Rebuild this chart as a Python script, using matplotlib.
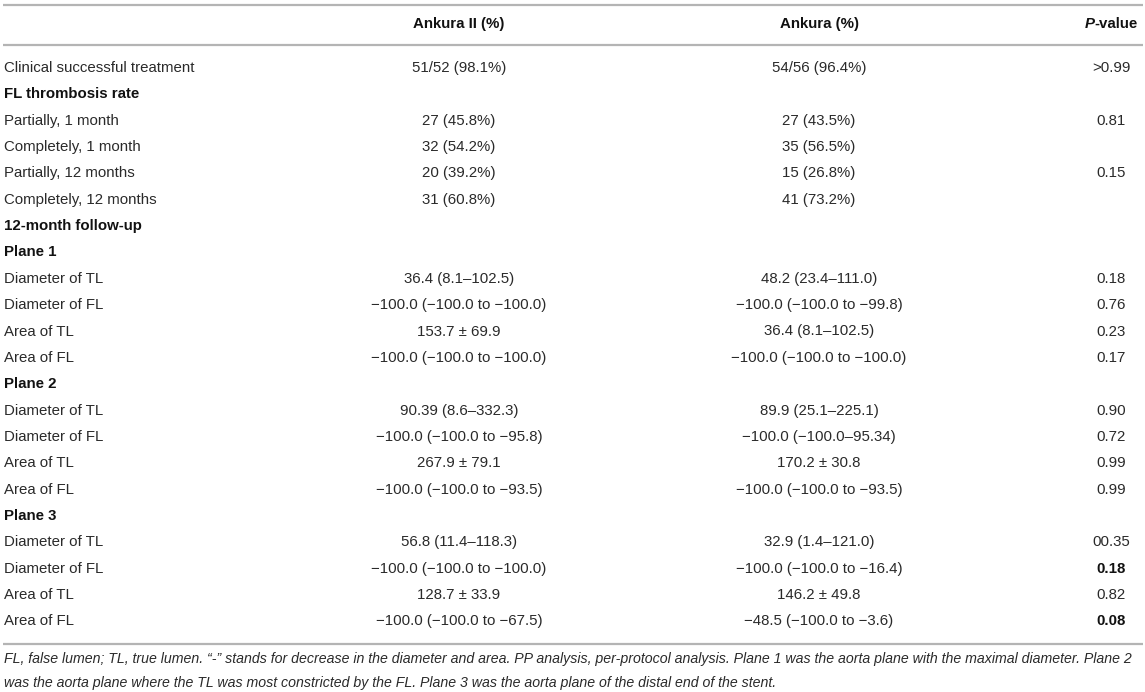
import matplotlib
matplotlib.use("Agg")
import matplotlib.pyplot as plt

W, H = 1145, 692
DPI = 100

headers = ["Ankura II (%)", "Ankura (%)", "P-value"]

row_labels = [
    "Clinical successful treatment",
    "FL thrombosis rate",
    "Partially, 1 month",
    "Completely, 1 month",
    "Partially, 12 months",
    "Completely, 12 months",
    "12-month follow-up",
    "Plane 1",
    "Diameter of TL",
    "Diameter of FL",
    "Area of TL",
    "Area of FL",
    "Plane 2",
    "Diameter of TL",
    "Diameter of FL",
    "Area of TL",
    "Area of FL",
    "Plane 3",
    "Diameter of TL",
    "Diameter of FL",
    "Area of TL",
    "Area of FL",
]
section_rows = {"FL thrombosis rate", "12-month follow-up", "Plane 1", "Plane 2", "Plane 3"}

ankura2 = [
    "51/52 (98.1%)", "", "27 (45.8%)", "32 (54.2%)", "20 (39.2%)", "31 (60.8%)", "", "",
    "36.4 (8.1\u2013102.5)", "\u2212100.0 (\u2212100.0 to \u2212100.0)", "153.7 \u00b1 69.9",
    "\u2212100.0 (\u2212100.0 to \u2212100.0)", "",
    "90.39 (8.6\u2013332.3)", "\u2212100.0 (\u2212100.0 to \u221295.8)", "267.9 \u00b1 79.1",
    "\u2212100.0 (\u2212100.0 to \u221293.5)", "",
    "56.8 (11.4\u2013118.3)", "\u2212100.0 (\u2212100.0 to \u2212100.0)", "128.7 \u00b1 33.9",
    "\u2212100.0 (\u2212100.0 to \u221267.5)",
]
ankura = [
    "54/56 (96.4%)", "", "27 (43.5%)", "35 (56.5%)", "15 (26.8%)", "41 (73.2%)", "", "",
    "48.2 (23.4\u2013111.0)", "\u2212100.0 (\u2212100.0 to \u221299.8)", "36.4 (8.1\u2013102.5)",
    "\u2212100.0 (\u2212100.0 to \u2212100.0)", "",
    "89.9 (25.1\u2013225.1)", "\u2212100.0 (\u2212100.0\u201395.34)", "170.2 \u00b1 30.8",
    "\u2212100.0 (\u2212100.0 to \u221293.5)", "",
    "32.9 (1.4\u2013121.0)", "\u2212100.0 (\u2212100.0 to \u221216.4)", "146.2 \u00b1 49.8",
    "\u221248.5 (\u2212100.0 to \u22123.6)",
]
pvalues = [
    ">0.99", "", "0.81", "", "0.15", "", "", "",
    "0.18", "0.76", "0.23", "0.17", "",
    "0.90", "0.72", "0.99", "0.99", "",
    "00.35", "0.18", "0.82", "0.08",
]
bold_p = {19, 21}

footnote = [
    "FL, false lumen; TL, true lumen. \u201c-\u201d stands for decrease in the diameter and area. PP analysis, per-protocol analysis. Plane 1 was the aorta plane with the maximal diameter. Plane 2",
    "was the aorta plane where the TL was most constricted by the FL. Plane 3 was the aorta plane of the distal end of the stent.",
]

plt.rcParams['font.family'] = ['Liberation Sans', 'DejaVu Sans']
fig = plt.figure(figsize=(W / DPI, H / DPI), dpi=DPI)
ax = fig.add_axes([0, 0, 1, 1])
ax.set_xlim(0, W)
ax.set_ylim(H, 0)
ax.axis("off")

FS = 10.8
BODY = "#2a2a2a"
BOLDC = "#111111"
LINEC = "#b4b4b4"

x_label = 4
x_c1 = 459
x_c2 = 819
x_c3 = 1111

for y in (4.5, 44.5, 643.5):
    ax.plot([3, 1143], [y, y], color=LINEC, lw=1.6, solid_capstyle="butt")

# header
y_head = 24
ax.text(x_c1, y_head, headers[0], ha="center", va="center", fontsize=FS, fontweight="bold", color=BOLDC)
ax.text(x_c2, y_head, headers[1], ha="center", va="center", fontsize=FS, fontweight="bold", color=BOLDC)
# P-value with italic P
fig.canvas.draw()
r = fig.canvas.get_renderer()
tP = ax.text(0, y_head, "P", ha="left", va="center", fontsize=FS, fontweight="bold", fontstyle="italic", color=BOLDC)
tV = ax.text(0, y_head, "-value", ha="left", va="center", fontsize=FS, fontweight="bold", color=BOLDC)
wP = tP.get_window_extent(r).width
wV = tV.get_window_extent(r).width
total = wP + wV
x0 = x_c3 - total / 2
tP.set_x(x0)
tV.set_x(x0 + wP)

y0 = 68.0
dy = 26.35
for i, lab in enumerate(row_labels):
    y = y0 + i * dy
    is_sec = lab in section_rows and ankura2[i] == ""
    ax.text(x_label, y, lab, ha="left", va="center", fontsize=FS,
            fontweight="bold" if is_sec else "normal", color=BOLDC if is_sec else BODY)
    if ankura2[i]:
        ax.text(x_c1, y, ankura2[i], ha="center", va="center", fontsize=FS, color=BODY)
    if ankura[i]:
        ax.text(x_c2, y, ankura[i], ha="center", va="center", fontsize=FS, color=BODY)
    if pvalues[i]:
        b = i in bold_p
        ax.text(x_c3, y, pvalues[i], ha="center", va="center", fontsize=FS,
                fontweight="bold" if b else "normal", color=BOLDC if b else BODY)

for j, line in enumerate(footnote):
    ax.text(x_label, 659 + j * 24, line, ha="left", va="center", fontsize=10.2,
            fontstyle="italic", color=BODY)

fig.savefig("out.png", dpi=DPI)
